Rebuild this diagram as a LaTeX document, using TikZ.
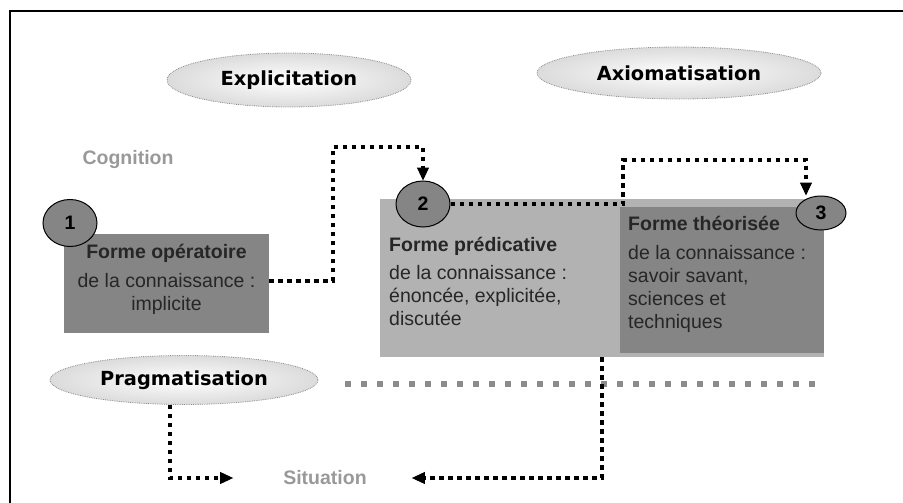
\documentclass[tikz,border=0pt]{standalone}
\usepackage{fontspec}
\setmainfont{Liberation Sans}
\newfontfamily\phasefont{DejaVu Sans}
\usetikzlibrary{arrows.meta, positioning, shapes.geometric}
\newcommand{\bodysize}{\fontsize{19.5}{23}\selectfont}
\newcommand{\phasesize}{\fontsize{19.4}{23}\selectfont}
\definecolor{panelDark}{gray}{0.52}
\definecolor{panelLight}{gray}{0.70}
\definecolor{inkGrey}{gray}{0.60}

\begin{document}
\begin{tikzpicture}[
  x=1pt, y=-1pt,
  font=\bodysize,
  panel/.style={
    draw=none,
    inner sep=0pt,
  },
  dark/.style={panel, fill=panelDark},
  light/.style={panel, fill=panelLight},
  formtext/.style={inner sep=0pt, text=black!85},
  stage/.style={
    ellipse,
    draw=black,
    line width=1pt,
    fill=panelDark,
    inner sep=0pt,
    font=\bodysize\bfseries,
  },
  phase/.style={
    ellipse,
    draw=black!45,
    densely dotted,
    line width=0.8pt,
    inner color=white,
    outer color=black!14,
    inner sep=0pt,
    font=\phasefont\phasesize\bfseries,
  },
  place/.style={inner sep=0pt, text=inkGrey, font=\bodysize\bfseries},
  flow/.style={
    draw=black,
    line width=4pt,
    dash pattern=on 4.5pt off 4.5pt,
    -{Triangle[length=13pt, width=12pt, line width=1pt]},
  },
  rule/.style={draw=black!45, line width=5.5pt, dash pattern=on 5.5pt off 10.5pt},
]
\useasboundingbox (0,0) rectangle (903,503);

% ---- frame, cut at the right and at the bottom ------------------------------
\draw[line width=2pt] (10,503) -- (10,11) -- (903,11);

% ---- the three forms of knowledge ------------------------------------------
% (base of a multi-line node = baseline of its last line)
\node[dark, minimum width=205pt, minimum height=99pt] (opbox) at (166.5,283.5) {};
\node[formtext, align=center, anchor=base] (optext) at (166.5,310)
  {\textbf{Forme opératoire}\\[6pt]
   de la connaissance :\\ implicite};

\node[light, minimum width=444pt, minimum height=158pt] (predbox) at (602,278) {};
\node[formtext, align=left, anchor=base west] (predtext) at (389,325)
  {\textbf{Forme prédicative}\\[5pt]
   de la connaissance :\\ énoncée, explicitée,\\ discutée};

\node[dark, minimum width=204pt, minimum height=146pt] (theobox) at (722,280) {};
\node[formtext, align=left, anchor=base west] (theotext) at (628,328)
  {\textbf{Forme théorisée}\\[6pt]
   de la connaissance :\\ savoir savant,\\ sciences et\\ techniques};

\node[stage, minimum width=54pt, minimum height=47pt] (num1) at (70,223) {1};
\node[stage, minimum width=54pt, minimum height=46pt] (num2) at (423,204) {2};
\node[stage, minimum width=50pt, minimum height=34pt] (num3) at (821,213) {3};

% ---- the three movements ----------------------------------------------------
\node[phase, minimum width=244pt, minimum height=54pt] (expl) at (289,80) {Explicitation};
\node[phase, minimum width=284pt, minimum height=52pt] (axio) at (679,73) {Axiomatisation};
\node[phase, minimum width=268pt, minimum height=49pt] (prag) at (184,380) {Pragmatisation};

% ---- the two poles ---------------------------------------------------------
\node[place] (cogn) at (128,160) {Cognition};
\node[place] (sit) at (325,478) {Situation};

% ---- connectors ------------------------------------------------------------
\coordinate (ruleL) at (345,384);
\coordinate (ruleR) at (818,384);
\draw[rule] (ruleL) -- (ruleR);

\coordinate (bend1) at (333,147);
\coordinate (bend2) at (623,160);
\coordinate (bend3) at (806,160);
\coordinate (drop) at (602,478);
\coordinate[right=45pt of sit] (sitR);
\coordinate[left=50pt of sit] (sitL);

\draw[flow] ([yshift=3pt]opbox.east) -| (bend1) -| (num2.north);
\draw[flow] (num2.east) -| (bend2) -- (bend3) -- (bend3 |- num3.north);
\draw[flow] (predbox.south -| drop) |- (sitR);
\draw[flow] ([xshift=-14pt]prag.south) |- (sitL);

\end{tikzpicture}
\end{document}
